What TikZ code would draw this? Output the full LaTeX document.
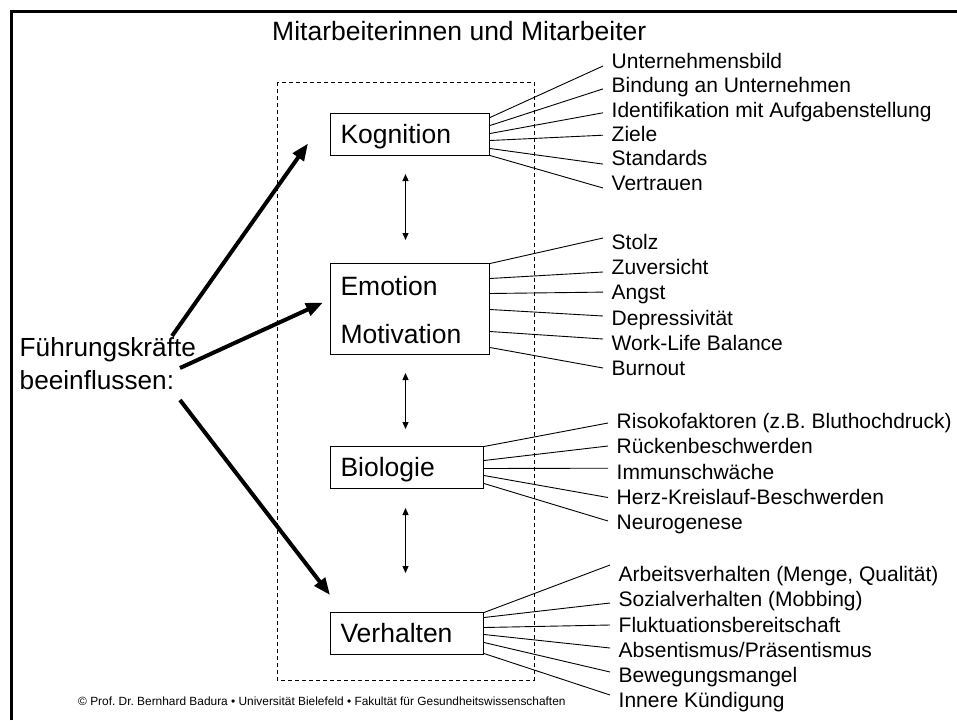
\documentclass[tikz,border=0pt]{standalone}
\usepackage{fontspec}
\setmainfont{Liberation Sans}
\usepackage {tikz}
\usetikzlibrary {positioning}
\usetikzlibrary{arrows.meta}
\usetikzlibrary{calc}
\frenchspacing

\begin{document}
\begin{tikzpicture}[x=1pt,y=-1pt,
	feld/.style={draw,line width=1pt,anchor=north west,inner xsep=10pt,inner ysep=0pt,
		text height=23.6pt,text depth=5pt,align=left,font=\fontsize{26.5}{30}\selectfont},
	merkmal/.style={anchor=west,inner xsep=8.5pt,inner ysep=0pt,text height=15pt,text depth=4.5pt,
		font=\fontsize{21}{24}\selectfont},
	einfluss/.style={line width=4pt,-{Triangle[length=17pt,width=13pt]}},
	wechsel/.style={line width=1.2pt,{Triangle[length=7pt,width=6pt]}-{Triangle[length=7pt,width=6pt]}},
	faden/.style={line width=0.9pt}]
	\useasboundingbox (0,0) rectangle (957,720);
	\draw[line width=3pt] (11.5,720) -- (11.5,11) -- (957,11);
	\node[anchor=base west,inner sep=0pt,font=\fontsize{26.5}{30}\selectfont] (titel) at (272,40) {Mitarbeiterinnen und Mitarbeiter};
	\draw[line width=0.8pt,dash pattern=on 4pt off 3pt] (277,82) rectangle (534,680);
	% die vier Ebenen
	\node[feld,text width=139pt,minimum height=42pt] (kog) at (330,113) {Kognition};
	\node[feld,text width=139pt,minimum height=91pt,text height=26pt,text depth=53pt] (emo) at (330,263) {Emotion\\[18pt]Motivation};
	\node[feld,text width=133pt,minimum height=42pt] (bio) at (330,446) {Biologie};
	\node[feld,text width=133pt,minimum height=42pt] (verh) at (330,612) {Verhalten};
	\draw[wechsel,shorten <=18pt,shorten >=23pt] ([xshift=-4.5pt]kog.south) -- ([xshift=-4.5pt]emo.north);
	\draw[wechsel,shorten <=18pt,shorten >=17pt] ([xshift=-4.5pt]emo.south) -- ([xshift=-1.5pt]bio.north);
	\draw[wechsel,shorten <=19pt,shorten >=39pt] ([xshift=-1.5pt]bio.south) -- ([xshift=-1.5pt]verh.north);
	% Fuehrungskraefte
	\node[anchor=base west,inner sep=0pt,align=left,font=\fontsize{26.2}{33}\selectfont] (fk) at (19.5,389) {Führungskräfte\\beeinflussen:};
	\path (172,336) coordinate (s1) (180,368) coordinate (s2) (180,400) coordinate (s3);
	\path (kog.west) ++(-22,9) coordinate (e1)
		(emo.west) ++(-7,-6.5) coordinate (e2)
		(verh.north west) ++(0,-17) coordinate (e3);
	\draw[einfluss] (s1) -- (e1);
	\draw[einfluss] (s2) -- (e2);
	\draw[einfluss] (s3) -- (e3);
	% Merkmale
	\foreach \txt/\s/\e [count=\i from 0] in {Unternehmensbild/-17/3,Bindung an Unternehmen/-9/1.5,
		Identifikation mit Aufgabenstellung/-1/1,Ziele/6/-1,Standards/14/3.5,Vertrauen/21/3}{
		\node[merkmal] (k\i) at (603,63+24.4*\i) {\txt};
		\draw[faden] (kog.east) ++(0,\s) -- ($(k\i.west)+(0,\e)$);
	}
	\foreach \txt/\s/\e [count=\i from 0] in {Stolz/-45.5/-6,Zuversicht/-30.5/2.7,Angst/-15.5/-2.5,
		Depressivität/0.5/-3.9,Work-Life Balance/22.5/-6.2,Burnout/38.5/-2.5}{
		\node[merkmal] (m\i) at (603,244+25.3*\i) {\txt};
		\draw[faden] (emo.east) ++(0,\s) -- ($(m\i.west)+(0,\e)$);
	}
	\foreach \txt/\s/\e [count=\i from 0] in {Risokofaktoren (z.B. Bluthochdruck)/-21/-0.5,Rückenbeschwerden/-7/-2.7,
		Immunschwäche/1/-5.7,Herz-Kreislauf-Beschwerden/8/-1.6,Neurogenese/16/-3.3}{
		\node[merkmal] (b\i) at (608,423.5+25.2*\i) {\txt};
		\draw[faden] (bio.east) ++(0,\s) -- ($(b\i.west)+(0,\e)$);
	}
	\foreach \txt/\s/\e [count=\i from 0] in {Arbeitsverhalten (Menge{,} Qualität)/-21/-11.5,Sozialverhalten (Mobbing)/-16/1.3,
		Fluktuationsbereitschaft/-6/-1.9,{Absentismus/Präsentismus}/1/-4.1,Bewegungsmangel/9/-5.3,Innere Kündigung/20/-7.5}{
		\node[merkmal] (v\i) at (610,576.5+25.2*\i) {\txt};
		\draw[faden] (verh.east) ++(0,\s) -- ($(v\i.west)+(0,\e)$);
	}
	\node[anchor=base west,inner sep=0pt,font=\fontsize{11.9}{13}\selectfont] (fuss) at (78,705) {© Prof. Dr. Bernhard Badura • Universität Bielefeld • Fakultät für Gesundheitswissenschaften};
\end{tikzpicture}
\end{document}
